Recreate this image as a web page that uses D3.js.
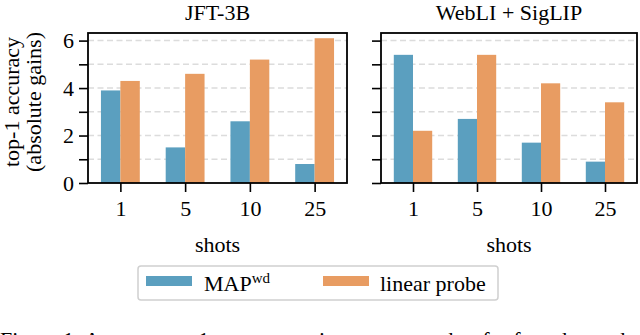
<!DOCTYPE html>
<html>
<head>
<meta charset="utf-8">
<script src="https://cdn.jsdelivr.net/npm/d3@7"></script>
<style>
  body { margin: 0; background: #fff; }
  svg { display: block; font-family: "Liberation Serif", "DejaVu Serif", serif; }
</style>
</head>
<body>
<div id="chartContainer"></div>
<script>
const shots = ["1", "5", "10", "25"];
const panels = ["JFT-3B", "WebLI + SigLIP"];
const mapJft = [3.9, 1.5, 2.6, 0.8];
const probeJft = [4.3, 4.6, 5.2, 6.1];
const mapWebli = [5.4, 2.7, 1.7, 0.9];
const probeWebli = [2.2, 5.4, 4.2, 3.4];
const yTicks = [0, 1, 2, 3, 4, 5, 6];
const yLabelTicks = [0, 2, 4, 6];
const seriesNames = ["MAP", "linear probe"];

const width = 640, height = 335;
const blue = "#5b9fbf", orange = "#e89c62";
const fs = 22;

let svg = d3.select("#chartContainer")
  .append("svg")
  .attr("width", width)
  .attr("height", height);

let y = d3.scaleLinear().domain([0, 6.32]).range([183, 33]);

const panelData = [
  { title: panels[0], left: 88, right: 347, series: [mapJft, probeJft], labels: true },
  { title: panels[1], left: 381, right: 637, series: [mapWebli, probeWebli], labels: false }
];

panelData.forEach((p) => {
  let x = d3.scaleLinear().domain([-0.5, 3.5]).range([p.left, p.right]);
  let g = svg.append("g");

  // grid
  g.selectAll(".grid")
    .data(yTicks.filter((d) => d > 0))
    .enter()
    .append("line")
    .attr("x1", p.left).attr("x2", p.right)
    .attr("y1", (d) => y(d)).attr("y2", (d) => y(d))
    .attr("stroke", "#dcdcdc")
    .attr("stroke-width", 1.5)
    .attr("stroke-dasharray", "6,3.5");

  // bars
  p.series.forEach((vals, si) => {
    g.selectAll(".bar" + si)
      .data(vals)
      .enter()
      .append("rect")
      .attr("x", (d, i) => x(i + (si === 0 ? -0.3 : 0)))
      .attr("width", x(0.3) - x(0))
      .attr("y", (d) => y(d))
      .attr("height", (d) => y(0) - y(d))
      .attr("fill", si === 0 ? blue : orange);
  });

  // y axis
  let yAxis = d3.axisLeft(y)
    .tickValues(yTicks)
    .tickSize(9)
    .tickPadding(5)
    .tickFormat((d) => (p.labels && yLabelTicks.includes(d)) ? d : "");
  let ya = g.append("g").attr("transform", `translate(${p.left},0)`).call(yAxis);

  // x axis
  let xAxis = d3.axisBottom(x)
    .tickValues([0, 1, 2, 3])
    .tickSize(9)
    .tickPadding(8)
    .tickFormat((d) => shots[d]);
  let xa = g.append("g").attr("transform", `translate(0,${y(0)})`).call(xAxis);

  [ya, xa].forEach((a) => {
    a.select(".domain").remove();
    a.selectAll("line").attr("stroke", "#000").attr("stroke-width", 1.6);
    a.selectAll("text").attr("fill", "#000").style("font-size", fs + "px").style("font-family", "Liberation Serif");
  });

  // box
  g.append("rect")
    .attr("x", p.left).attr("y", y.range()[1])
    .attr("width", p.right - p.left).attr("height", y.range()[0] - y.range()[1])
    .attr("fill", "none").attr("stroke", "#000").attr("stroke-width", 1.8);

  g.append("text")
    .attr("x", (p.left + p.right) / 2).attr("y", 20)
    .attr("text-anchor", "middle")
    .style("font-size", fs + "px")
    .text(p.title);

  g.append("text")
    .attr("x", (p.left + p.right) / 2).attr("y", 252)
    .attr("text-anchor", "middle")
    .style("font-size", fs + "px")
    .text("shots");
});

// y label
let yl = svg.append("text")
  .attr("transform", "translate(0,102) rotate(-90)")
  .attr("text-anchor", "middle")
  .style("font-size", fs + "px");
yl.append("tspan").attr("x", 0).attr("y", 19).text("top-1 accuracy");
yl.append("tspan").attr("x", 0).attr("y", 41).text("(absolute gains)");

// legend
let leg = svg.append("g");
leg.append("rect")
  .attr("x", 138).attr("y", 266).attr("width", 360).attr("height", 34)
  .attr("rx", 3)
  .attr("fill", "#fff").attr("stroke", "#d0d0d0").attr("stroke-width", 1.5);
leg.append("rect").attr("x", 146).attr("y", 276).attr("width", 46).attr("height", 10).attr("fill", blue);
leg.append("rect").attr("x", 323).attr("y", 276).attr("width", 46).attr("height", 10).attr("fill", orange);
let t1 = leg.append("text").attr("x", 204).attr("y", 291).style("font-size", fs + "px");
t1.append("tspan").text(seriesNames[0]);
t1.append("tspan").attr("dy", -8).style("font-size", "15px").text("wd");
leg.append("text").attr("x", 380).attr("y", 291).style("font-size", fs + "px").text(seriesNames[1]);

// caption (cut off at bottom)
svg.append("text")
  .attr("x", 0).attr("y", 347)
  .style("font-size", fs + "px")
  .text("Figure 1: Average top-1 accuracy gains over zero-shot for few-shot tasks.");
</script>
</body>
</html>
